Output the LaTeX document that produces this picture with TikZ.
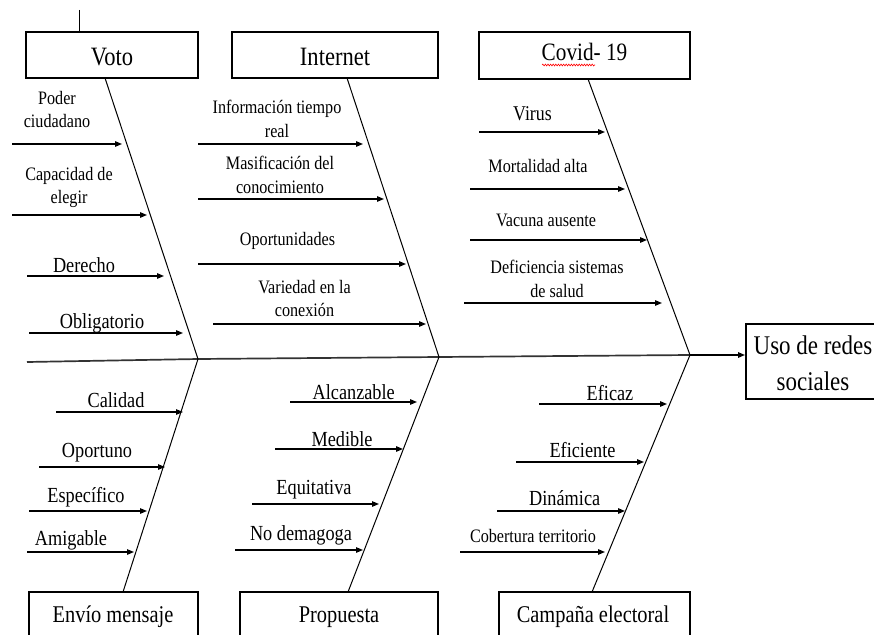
\documentclass[tikz,border=0pt]{standalone}
\usepackage{fontspec}
\setmainfont{Liberation Serif}[FakeStretch=0.85]
\usetikzlibrary{arrows.meta,decorations.pathmorphing}
\begin{document}
\begin{tikzpicture}[x=1pt,y=-1pt,
  box/.style={draw,line width=1.3pt,inner sep=0pt},
  bone/.style={line width=1pt},
  spine/.style={line width=1.7pt,black!80},
  arr/.style={line width=1.2pt,-{Triangle[length=7pt,width=5.5pt]}},
  lbl/.style={inner sep=0pt,anchor=base,font=\fontsize{19}{22}\selectfont},
  lblm/.style={inner sep=0pt,anchor=base,font=\fontsize{21.5}{24}\selectfont},
  ttl/.style={inner sep=0pt,anchor=base,font=\fontsize{26.5}{30}\selectfont},
  ttlb/.style={inner sep=0pt,anchor=base,font=\fontsize{24}{28}\selectfont}]
\useasboundingbox (0,0) rectangle (874,634);

% boxes
\node[box,minimum width=172pt,minimum height=46pt] (votob) at (112,55) {};
\node[box,minimum width=206pt,minimum height=46pt] (intb) at (335,55) {};
\node[box,minimum width=211pt,minimum height=47pt] (covb) at (584.5,55.5) {};
\node[box,minimum width=134pt,minimum height=75pt] (usob) at (813,361.5) {};
\node[box,minimum width=169pt,minimum height=50pt] (envb) at (113.5,617) {};
\node[box,minimum width=198pt,minimum height=50pt] (prob) at (339,617) {};
\node[box,minimum width=191pt,minimum height=50pt] (camb) at (594.5,617) {};

% titles
\node[ttl] (votot) at (112,65) {Voto};
\node[ttl] (intt) at (335,65) {Internet};
\node[ttlb,font=\fontsize{25}{29}\selectfont] (covt) at (584.5,60) {Covid- 19};
\node[ttl,font=\fontsize{27}{30}\selectfont] (uso1) at (813,354) {Uso de redes};
\node[ttl,font=\fontsize{27}{30}\selectfont] (uso2) at (813,390) {sociales};
\node[ttlb] (envt) at (113,622) {Envío mensaje};
\node[ttlb] (prot) at (339,622) {Propuesta};
\node[ttlb] (camt) at (593,622) {Campaña electoral};

% spell-check underline
\coordinate (sq1) at (542,65);
\coordinate (sq2) at (595,65);
\draw[red,line width=0.6pt,decorate,decoration={snake,amplitude=0.9pt,segment length=2.6pt}] (sq1) -- (sq2);

% small tick at top left
\coordinate (tick) at (79,10);
\draw[line width=1pt] (tick) -- (tick |- votob.north);

% spine
\coordinate (s0) at (27,362);
\coordinate (j1) at (198,359);
\coordinate (j2) at (439,357);
\coordinate (j3) at (690,355);
\coordinate (se) at (745,355);
\draw[spine] (s0) -- (j1) -- (j2) -- (j3);
\draw[line width=1.4pt,-{Triangle[length=7pt,width=5.5pt]}] (j3) -- (se);

% bones
\coordinate (t1) at (105,78);
\coordinate (t2) at (347,78);
\coordinate (t3) at (588,79);
\coordinate (u1) at (123,592);
\coordinate (u2) at (348,592);
\coordinate (u3) at (592,592);
\draw[bone] (t1) -- (j1) -- (u1);
\draw[bone] (t2) -- (j2) -- (u2);
\draw[bone] (t3) -- (j3) -- (u3);

% cause arrows
\foreach \n/\xa/\xb/\y in {
  a1/12/122/144, a2/12/147/215, a3/27/164/276, a4/29/183/333,
  b1/198/363/144, b2/198/384/199, b3/198/406/264, b4/213/426/324,
  c1/479/605/132, c2/470/625/189, c3/470/647/240, c4/464/662/303,
  d1/56/183/412, d2/39/165/467, d3/29/147/511, d4/27/134/552,
  e1/290/417/402, e2/275/403/449, e3/252/379/504, e4/235/363/550,
  f1/539/667/404, f2/516/644/462, f3/497/625/511, f4/460/605/552}{
  \coordinate (\n s) at (\xa,\y);
  \coordinate (\n e) at (\xb,\y);
  \draw[arr] (\n s) -- (\n e);
}

% labels Voto
\node[lbl] (la1) at (57,104) {Poder};
\node[lbl] (la1b) at (57,127) {ciudadano};
\node[lbl] (la2) at (69,180) {Capacidad de};
\node[lbl] (la2b) at (69,203) {elegir};
\node[lblm] (la3) at (84,272) {Derecho};
\node[lblm] (la4) at (102,328) {Obligatorio};
% labels Internet
\node[lbl] (lb1) at (277,113) {Información tiempo};
\node[lbl] (lb1b) at (277,137) {real};
\node[lbl] (lb2) at (280,169) {Masificación del};
\node[lbl] (lb2b) at (280,193) {conocimiento};
\node[lbl] (lb3) at (287.5,245) {Oportunidades};
\node[lbl] (lb4) at (304.5,293) {Variedad en la};
\node[lbl] (lb4b) at (304.5,316) {conexión};
% labels Covid
\node[lblm,font=\fontsize{21}{24}\selectfont] (lc1) at (532.5,120) {Virus};
\node[lbl] (lc2) at (538,172) {Mortalidad alta};
\node[lbl] (lc3) at (546,226) {Vacuna ausente};
\node[lbl] (lc4) at (557,273) {Deficiencia sistemas};
\node[lbl] (lc4b) at (557,297) {de salud};
% labels Envio
\node[lblm] (ld1) at (116,407) {Calidad};
\node[lblm] (ld2) at (97,457) {Oportuno};
\node[lblm] (ld3) at (86,502) {Específico};
\node[lblm] (ld4) at (71,545) {Amigable};
% labels Propuesta
\node[lblm] (le1) at (353.7,399) {Alcanzable};
\node[lblm] (le2) at (342,446) {Medible};
\node[lblm] (le3) at (314,494) {Equitativa};
\node[lblm] (le4) at (301,540) {No demagoga};
% labels Campana
\node[lblm] (lf1) at (610,400) {Eficaz};
\node[lblm] (lf2) at (582.5,457) {Eficiente};
\node[lblm] (lf3) at (564.7,505) {Dinámica};
\node[lbl] (lf4) at (533,542) {Cobertura territorio};
\end{tikzpicture}
\end{document}
